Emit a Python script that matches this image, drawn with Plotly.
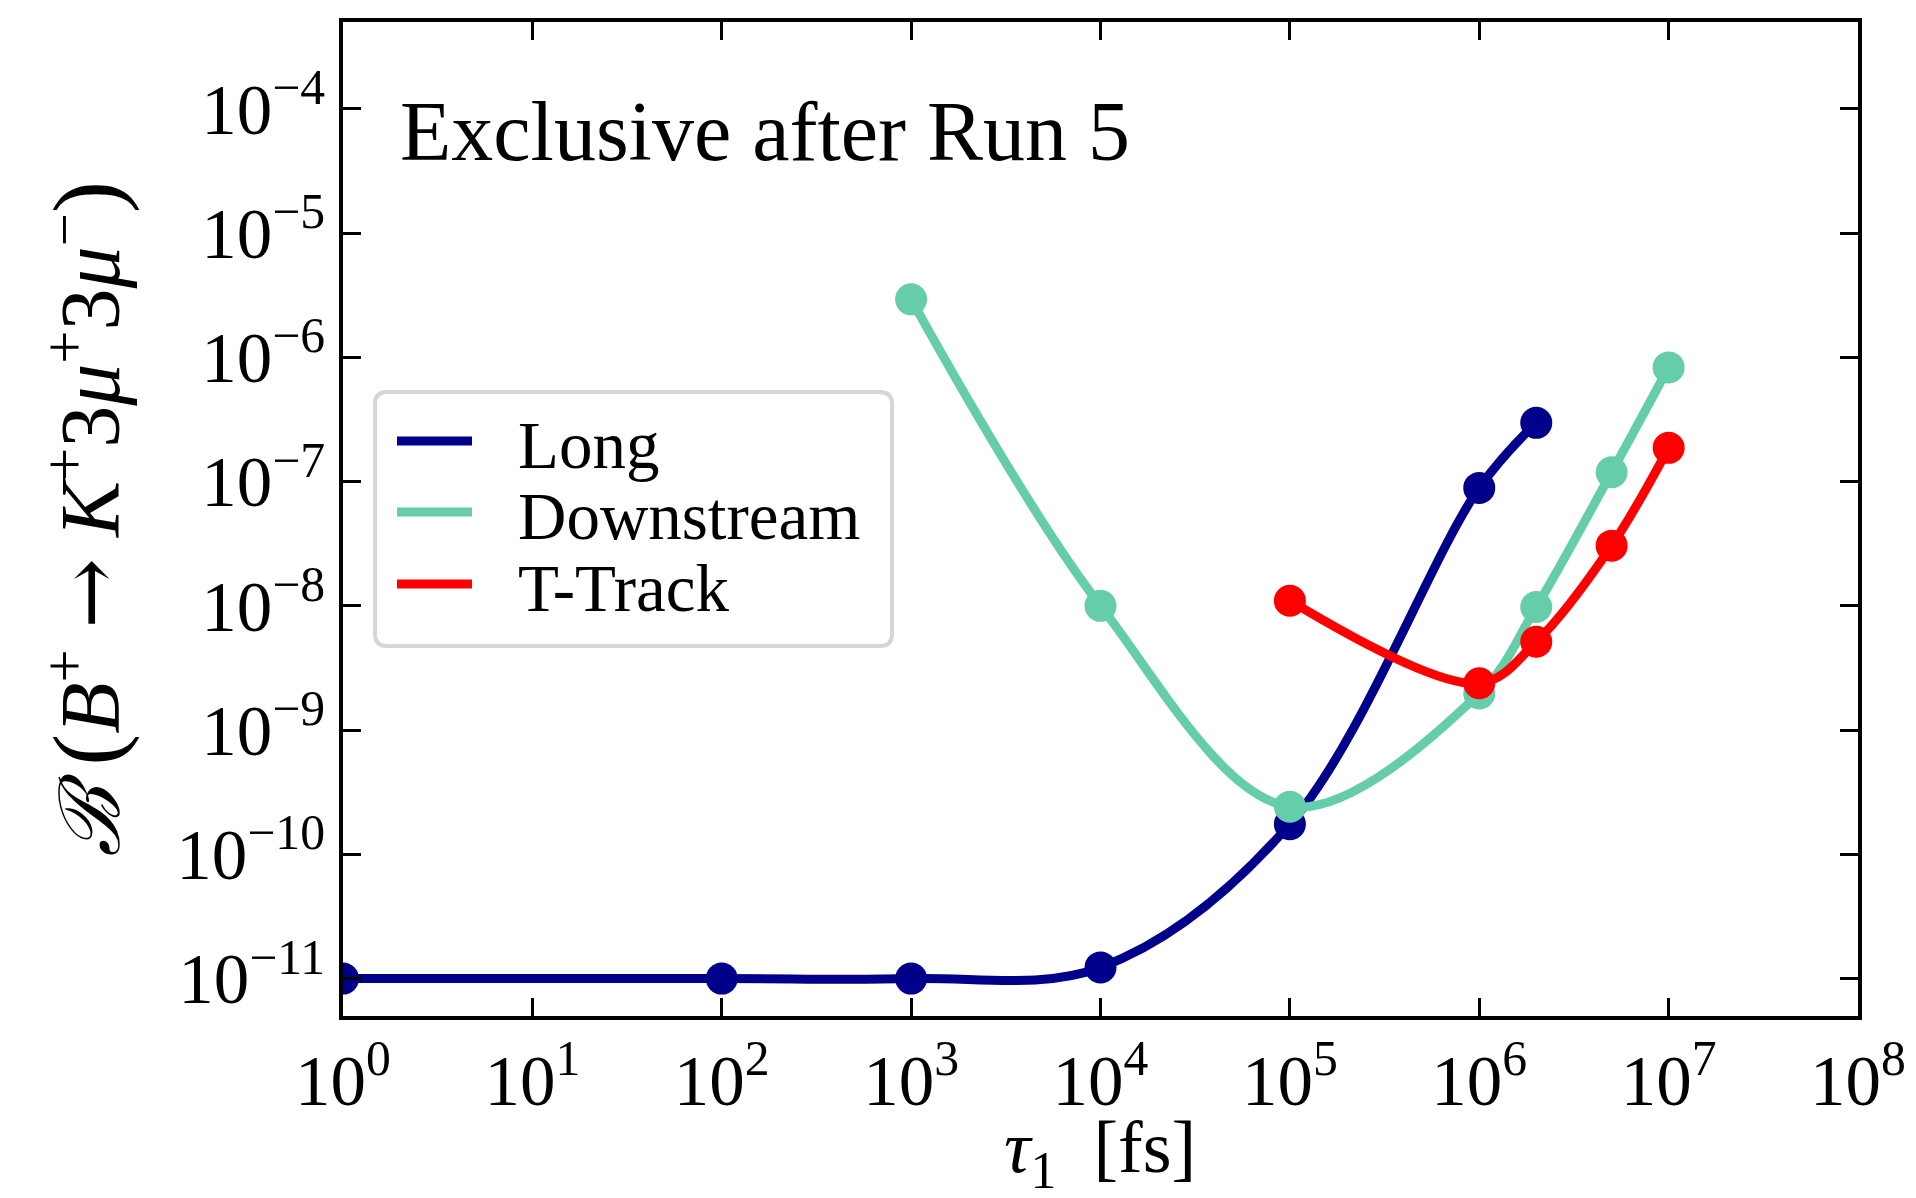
import plotly.graph_objects as go

# ---------------- data ----------------
tau_long = [1, 1e2, 1e3, 1e4, 1e5, 1e6, 2e6]
br_long = [1.0e-11, 1.0e-11, 1.0e-11, 1.23e-11, 1.75e-10, 8.9e-8, 2.97e-7]

tau_down = [1e3, 1e4, 1e5, 1e6, 2e6, 5e6, 1e7]
br_down = [2.93e-6, 1.0e-8, 2.42e-10, 1.97e-9, 9.8e-9, 1.19e-7, 8.3e-7]

tau_ttrack = [1e5, 1e6, 2e6, 5e6, 1e7]
br_ttrack = [1.1e-8, 2.38e-9, 5.14e-9, 3.05e-8, 1.87e-7]

series_names = ["Long", "Downstream", "T-Track"]
series_colors = ["#00008B", "#66CDAA", "#FF0000"]

x_tick_exponents = [0, 1, 2, 3, 4, 5, 6, 7, 8]
y_tick_exponents = [-11, -10, -9, -8, -7, -6, -5, -4]

annotation_text = "Exclusive after Run 5"
x_title = "<i>τ</i><sub>1</sub>  [fs]"
y_title = ("<i>ℬ</i> <span style='font-size:96px'>(</span><i>B</i><sup>+</sup> "
           "<span style='font-family:DejaVu Serif'>→</span> <i>K</i><sup>+</sup>3<i>μ</i><sup>+</sup>"
           "3<i>μ</i><sup>−</sup><span style='font-size:96px'>)</span>")

# ---------------- layout geometry (pixels) ----------------
W, H = 1916, 1198
PX0, PX1 = 343, 1858   # plot area left / right
PY0, PY1 = 22, 1016    # plot area top / bottom
FONT = "Liberation Serif"


def px(x):
    return (x - PX0) / (PX1 - PX0)


def py(y):
    return (PY1 - y) / (PY1 - PY0)


def sup_label(e):
    s = str(e).replace("-", "−")
    return f"10<sup>{s}</sup>"


fig = go.Figure()

all_series = [(tau_long, br_long), (tau_down, br_down), (tau_ttrack, br_ttrack)]
for (xs, ys), name, col in zip(all_series, series_names, series_colors):
    fig.add_trace(go.Scatter(
        x=xs, y=ys, mode="lines", name=name,
        line=dict(color=col, width=9, shape="spline", smoothing=1.0),
        showlegend=False, hoverinfo="skip"))
    fig.add_trace(go.Scatter(
        x=xs, y=ys, mode="markers", name=name,
        marker=dict(color=col, size=32, line=dict(width=0)),
        showlegend=False))

axis_common = dict(
    ticks="inside", ticklen=18, tickwidth=3, tickcolor="black",
    showline=True, linewidth=3.5, linecolor="black", mirror="ticks",
    showgrid=False, zeroline=False, automargin=False,
    tickfont=dict(family=FONT, size=71, color="black"),
)

fig.update_xaxes(
    type="log", range=[0, 8],
    tickvals=[10 ** e for e in x_tick_exponents],
    ticktext=[sup_label(e) for e in x_tick_exponents],
    **axis_common)

fig.update_yaxes(
    type="log", range=[-11.30103, -3.30103],
    tickvals=[10.0 ** e for e in y_tick_exponents],
    ticktext=[sup_label(e) for e in y_tick_exponents],
    title=dict(text=y_title, font=dict(family=FONT, size=84, color="black"), standoff=30),
    **axis_common)

# x-axis title placed as text below the tick labels
fig.add_annotation(xref="paper", yref="paper", x=px(1100), y=py(1152),
                   xanchor="center", yanchor="middle", showarrow=False,
                   text=x_title, font=dict(family=FONT, size=74, color="black"))

# ---------------- custom legend ----------------
bx0, by0, bx1, by1, r = 375, 392, 892, 646, 12


def rounded_rect_path(x0, y0, x1, y1, rad):
    rx = rad / (PX1 - PX0)
    ry = rad / (PY1 - PY0)
    X0, X1 = px(x0), px(x1)
    Y0, Y1 = py(y0), py(y1)  # Y0 top (larger), Y1 bottom
    return (f"M {X0 + rx},{Y0} L {X1 - rx},{Y0} Q {X1},{Y0} {X1},{Y0 - ry} "
            f"L {X1},{Y1 + ry} Q {X1},{Y1} {X1 - rx},{Y1} "
            f"L {X0 + rx},{Y1} Q {X0},{Y1} {X0},{Y1 + ry} "
            f"L {X0},{Y0 - ry} Q {X0},{Y0} {X0 + rx},{Y0} Z")


fig.add_shape(type="path", path=rounded_rect_path(bx0, by0, bx1, by1, r),
              xref="paper", yref="paper", line=dict(color="#d6d6d6", width=4),
              fillcolor="white", layer="above")

legend_rows = [441, 512, 584]
for yrow, name, col in zip(legend_rows, series_names, series_colors):
    fig.add_shape(type="line", xref="paper", yref="paper",
                  x0=px(397), x1=px(472), y0=py(yrow), y1=py(yrow),
                  line=dict(color=col, width=9), layer="above")
    fig.add_annotation(xref="paper", yref="paper", x=px(516), y=py(yrow + 4),
                       xanchor="left", yanchor="middle", showarrow=False,
                       text=name, font=dict(family=FONT, size=67, color="black"))

fig.add_annotation(xref="paper", yref="paper", x=px(398), y=py(132),
                   xanchor="left", yanchor="middle", showarrow=False,
                   text=annotation_text, font=dict(family=FONT, size=84, color="black"))

fig.update_layout(
    width=W, height=H,
    margin=dict(l=PX0, r=W - PX1, t=PY0, b=H - PY1, autoexpand=False),
    plot_bgcolor="white", paper_bgcolor="white",
    showlegend=False,
    font=dict(family=FONT, color="black"),
)

fig.write_html("out.html")
